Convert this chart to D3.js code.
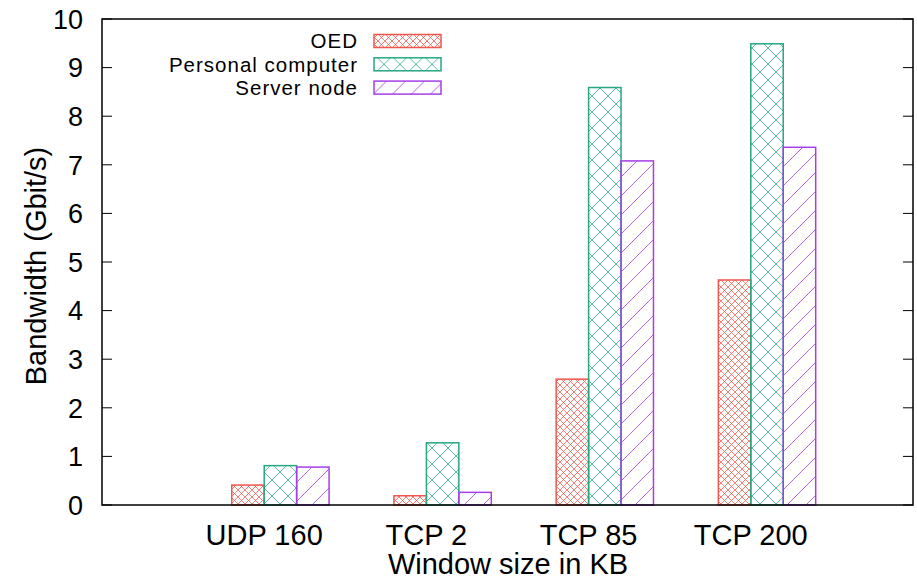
<!DOCTYPE html>
<html>
<head>
<meta charset="utf-8">
<script src="https://cdn.jsdelivr.net/npm/d3@7"></script>
<style>
  body { margin: 0; background: #fff; }
  text { font-family: "Liberation Sans", Arial, Helvetica, sans-serif; fill: #000; }
</style>
</head>
<body>
<div id="chart"></div>
<script>
// window sizes (x categories)
const categories = ["UDP 160", "TCP 2", "TCP 85", "TCP 200"];
const seriesNames = ["OED", "Personal computer", "Server node"];
// bandwidth in Gbit/s
const oedValues = [0.41, 0.19, 2.59, 4.63];
const pcValues = [0.81, 1.28, 8.59, 9.49];
const serverValues = [0.78, 0.26, 7.08, 7.36];
const yTickValues = [0, 1, 2, 3, 4, 5, 6, 7, 8, 9, 10];

const width = 917, height = 580;
const plotLeft = 102, plotRight = 913, plotTop = 19, plotBottom = 505;

const colors = ["#f2554b", "#25a882", "#a53ee6"];
const patternIds = ["pat-oed", "pat-pc", "pat-server"];
const seriesValues = [oedValues, pcValues, serverValues];

const svg = d3.select("#chart").append("svg")
  .attr("width", width)
  .attr("height", height);

// hatch patterns (gnuplot-like fill styles)
const defs = svg.append("defs");
function crossHatch(id, color, size) {
  const p = defs.append("pattern")
    .attr("id", id)
    .attr("patternUnits", "userSpaceOnUse")
    .attr("width", size).attr("height", size);
  p.append("path")
    .attr("d", `M0,0L${size},${size}M0,${size}L${size},0`)
    .attr("stroke", color).attr("stroke-width", 1).attr("stroke-opacity", 0.75)
    .attr("fill", "none");
}
crossHatch("pat-oed", colors[0], 7);
crossHatch("pat-pc", colors[1], 16);
const sp = defs.append("pattern")
  .attr("id", "pat-server")
  .attr("patternUnits", "userSpaceOnUse")
  .attr("width", 19).attr("height", 19);
sp.append("path")
  .attr("d", "M-2,21L21,-2M-2,2L2,-2M17,21L21,17")
  .attr("stroke", colors[2]).attr("stroke-width", 1).attr("stroke-opacity", 0.8)
  .attr("fill", "none");

const x = d3.scaleLinear().domain([0, 5]).range([plotLeft, plotRight]);
const y = d3.scaleLinear().domain([0, 10]).range([plotBottom, plotTop]);
const barW = 0.2;

// bars
seriesValues.forEach((vals, j) => {
  svg.append("g")
    .selectAll("rect")
    .data(vals)
    .join("rect")
    .attr("x", (d, i) => x(i + 1 + (j - 1) * barW))
    .attr("width", x(barW) - x(0))
    .attr("y", d => y(d))
    .attr("height", d => y(0) - y(d))
    .attr("fill", `url(#${patternIds[j]})`)
    .attr("stroke", colors[j])
    .attr("stroke-width", 1.5);
});

// y axis ticks (inward, mirrored)
const yAxis = svg.append("g");
yAxis.selectAll("line.l")
  .data(yTickValues)
  .join("line")
  .attr("class", "l")
  .attr("x1", plotLeft).attr("x2", plotLeft + 10)
  .attr("y1", d => y(d)).attr("y2", d => y(d))
  .attr("stroke", "#000").attr("stroke-width", 1);
yAxis.selectAll("line.r")
  .data(yTickValues)
  .join("line")
  .attr("class", "r")
  .attr("x1", plotRight).attr("x2", plotRight - 10)
  .attr("y1", d => y(d)).attr("y2", d => y(d))
  .attr("stroke", "#000").attr("stroke-width", 1);
yAxis.selectAll("text")
  .data(yTickValues)
  .join("text")
  .attr("x", 83)
  .attr("y", d => y(d))
  .attr("dy", "0.36em")
  .attr("text-anchor", "end")
  .style("font-size", "27px")
  .text(d => d);

// x tick labels
svg.append("g")
  .selectAll("text")
  .data(categories)
  .join("text")
  .attr("x", (d, i) => x(i + 1))
  .attr("y", 545)
  .attr("text-anchor", "middle")
  .style("font-size", "29px")
  .text(d => d);

// frame
svg.append("rect")
  .attr("x", plotLeft).attr("y", plotTop)
  .attr("width", plotRight - plotLeft).attr("height", plotBottom - plotTop)
  .attr("fill", "none")
  .attr("stroke", "#000").attr("stroke-width", 1.5);

// axis titles
svg.append("text")
  .attr("transform", `translate(46,266) rotate(-90)`)
  .attr("text-anchor", "middle")
  .style("font-size", "29px")
  .text("Bandwidth (Gbit/s)");
svg.append("text")
  .attr("x", 508)
  .attr("y", 574)
  .attr("text-anchor", "middle")
  .style("font-size", "29px")
  .text("Window size in KB");

// legend
const legend = svg.append("g")
  .selectAll("g")
  .data(seriesNames)
  .join("g")
  .attr("transform", (d, j) => `translate(0,${41 + j * 23.3})`);
legend.append("text")
  .attr("x", 358)
  .attr("dy", "0.36em")
  .attr("text-anchor", "end")
  .style("font-size", "20.5px")
  .style("letter-spacing", "1px")
  .text(d => d);
legend.append("rect")
  .attr("x", 374).attr("y", -6.5)
  .attr("width", 67).attr("height", 13)
  .attr("fill", (d, j) => `url(#${patternIds[j]})`)
  .attr("stroke", (d, j) => colors[j])
  .attr("stroke-width", 1.5);
</script>
</body>
</html>
